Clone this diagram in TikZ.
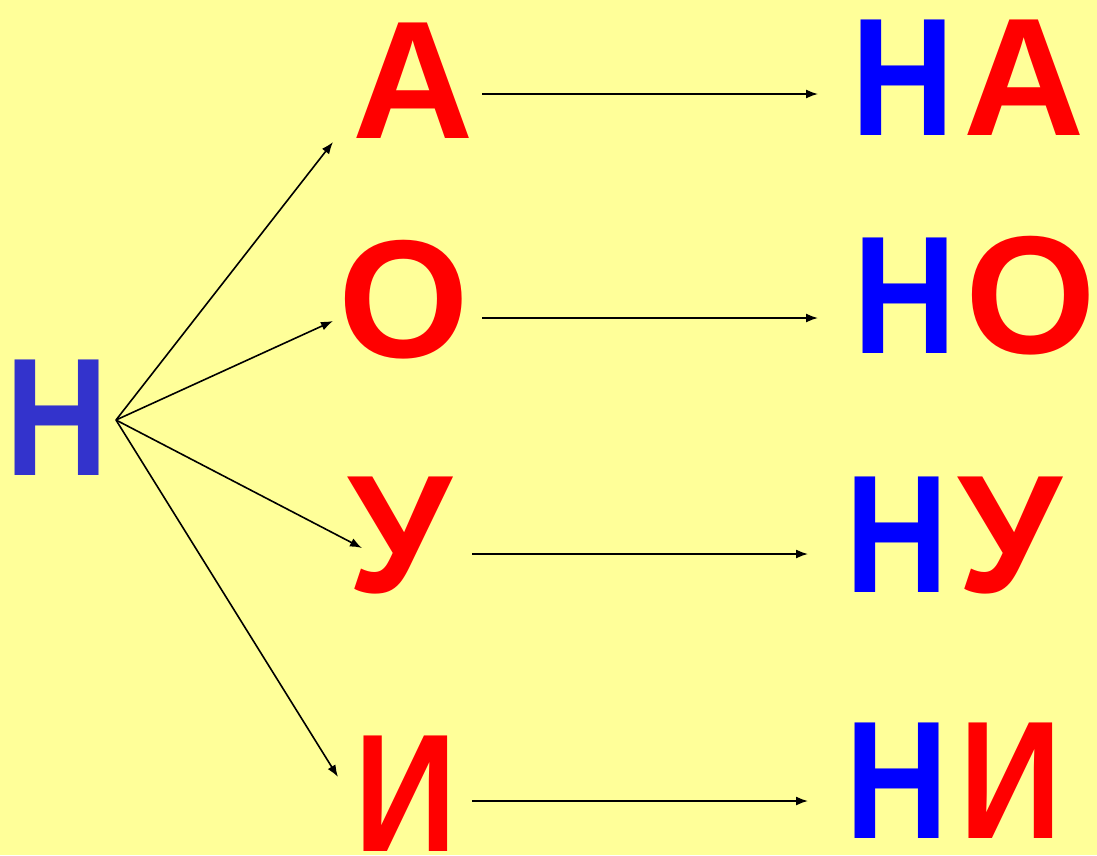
\documentclass[tikz,border=0pt]{standalone}
\usepackage{fontspec}
\setmainfont{Liberation Sans}
\usepackage{xcolor}
\usepackage{graphicx}
\usepackage{tikz}
\usetikzlibrary{arrows.meta}

\definecolor{bgyellow}{HTML}{FFFF99}
\definecolor{leftblue}{HTML}{3333CC}
\definecolor{sylblue}{HTML}{0000FF}
\definecolor{vowelred}{HTML}{FF0000}

% narrow Cyrillic letters
\newcommand{\enN}{\scalebox{0.85}[1]{Н}}
\newcommand{\iI}{\scalebox{0.85}[1]{И}}

\tikzset{
  letter/.style={inner sep=0pt, anchor=base west, font=\fontsize{168}{168}\selectfont\bfseries},
  arr/.style={-{Latex[length=12pt,width=9pt]}, line width=1.6pt}
}

\begin{document}
\begin{tikzpicture}[x=1pt,y=-1pt]
	\fill[bgyellow] (0,0) rectangle (1097,855);
	% left consonant
	\node[letter,leftblue](n) at (5,475) {\enN};
	% vowels
	\node[letter,vowelred](a) at (352,138) {А};
	\node[letter,vowelred](o) at (338,357) {О};
	\node[letter,vowelred](u) at (347,592) {У};
	\node[letter,vowelred](i) at (354,851) {\iI};
	% syllables
	\node[letter](na) at (851,135) {\textcolor{sylblue}{\enN}\kern9pt\textcolor{vowelred}{А}};
	\node[letter](no) at (853,353) {\textcolor{sylblue}{\enN}\kern9pt\textcolor{vowelred}{О}};
	\node[letter](nu) at (845,592) {\textcolor{sylblue}{\enN}\kern9pt\textcolor{vowelred}{У}};
	\node[letter](ni) at (845,838) {\textcolor{sylblue}{\enN}\kern11pt\textcolor{vowelred}{\iI}};
	% fan
	\draw [arr] ([shift={(111,-55)}]n.base west) -- ([shift={(-19,4)}]a.base west);
	\draw [arr] ([shift={(111,-55)}]n.base west) -- ([shift={(-5,-36)}]o.base west);
	\draw [arr] ([shift={(111,-55)}]n.base west) -- ([shift={(15,-44)}]u.base west);
	\draw [arr] ([shift={(111,-55)}]n.base west) -- ([shift={(-16,-74)}]i.base west);
	% rows
	\draw [arr] ([shift={(130,-44)}]a.base west) -- ([shift={(-33,-41)}]na.base west);
	\draw [arr] ([shift={(144,-39)}]o.base west) -- ([shift={(-35,-35)}]no.base west);
	\draw [arr] ([shift={(125,-38)}]u.base west) -- ([shift={(-37,-38)}]nu.base west);
	\draw [arr] ([shift={(118,-50)}]i.base west) -- ([shift={(-37,-37)}]ni.base west);
\end{tikzpicture}
\end{document}
